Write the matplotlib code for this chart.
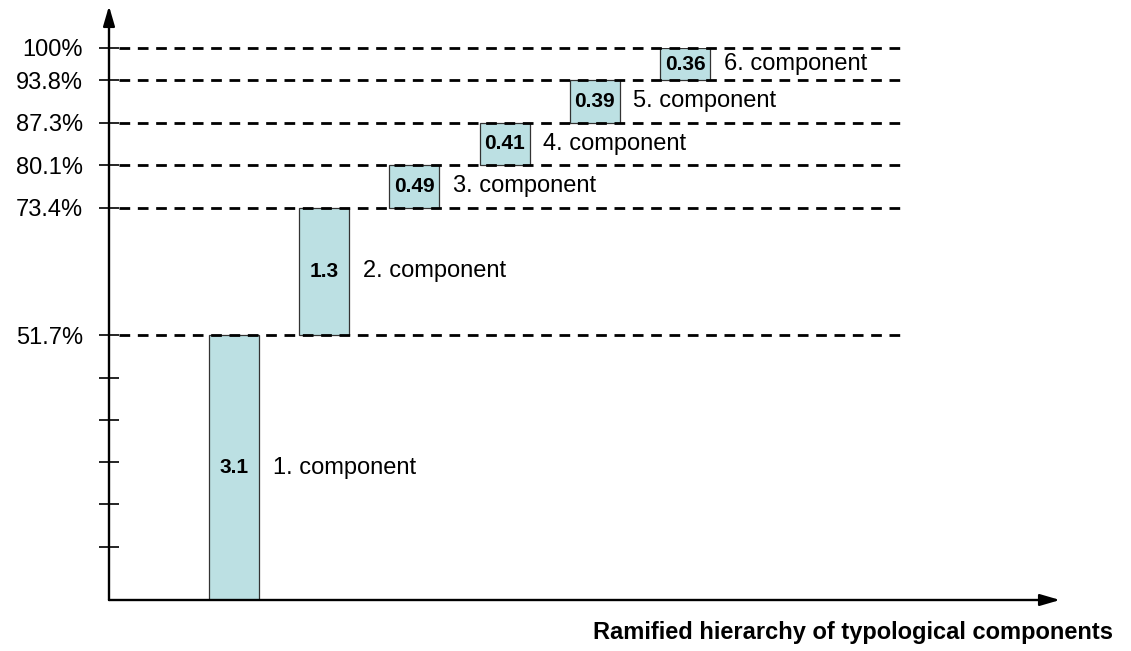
import numpy as np
import matplotlib
matplotlib.use("Agg")
import matplotlib.pyplot as plt

plt.rcParams['font.family'] = ['Liberation Sans', 'DejaVu Sans']
plt.rcParams['lines.scale_dashes'] = False

# components of the hierarchy
components = ["1. component", "2. component", "3. component",
              "4. component", "5. component", "6. component"]
values = [3.1, 1.3, 0.49, 0.41, 0.39, 0.36]
cum_pct = [51.7, 73.4, 80.1, 87.3, 93.8, 100.0]
tick_labels = ["51.7%", "73.4%", "80.1%", "87.3%", "93.8%", "100%"]
# unlabelled ticks under the first level
minor_pct = [10.3, 18.7, 26.9, 35.1, 43.4]

bottoms = [0.0] + cum_pct[:-1]
heights = np.array(cum_pct) - np.array(bottoms)

# the diagram does not space the levels proportionally, so map them
# onto the axis with a piecewise linear scale
levels = [0.0] + cum_pct
level_pos = [0.0, 0.480, 0.711, 0.788, 0.865, 0.942, 1.0]

def fwd(v):
    return np.interp(v, levels, level_pos)

def inv(p):
    return np.interp(p, level_pos, levels)

W, H = 1131, 651
fig = plt.figure(figsize=(W / 100, H / 100), dpi=100)
ax = fig.add_axes([109 / W, 51 / H, (1060 - 109) / W, 552 / H])
ax.set_yscale('function', functions=(fwd, inv))
ax.set_ylim(0, 100)
ax.set_xlim(-0.386, 10.157)

x = np.arange(1, len(values) + 1)
bar_w = 0.554
ax.bar(x, heights, bottom=bottoms, width=bar_w, color="#bce0e3",
       edgecolor="#333333", linewidth=0.9, zorder=2)

ax.hlines(cum_pct, -0.275, 8.38, colors="black", linewidth=2.0,
          linestyles=[(0, (7.7, 5.5))], zorder=3, clip_on=False)

for xi, b, h, v, name in zip(x, bottoms, heights, values, components):
    mid = inv((fwd(b) + fwd(b + h)) / 2)
    ax.text(xi, mid, f"{v:g}", ha="center", va="center",
            fontsize=15, fontweight="bold", zorder=4)
    ax.text(xi + bar_w / 2 + 0.15, mid, name, ha="left", va="center",
            fontsize=17, zorder=4)

for s in ax.spines.values():
    s.set_visible(False)

ax.set_xticks([])
ax.set_yticks(cum_pct)
ax.set_yticklabels(tick_labels)
ax.set_yticks(minor_pct, minor=True)
ax.tick_params(axis="y", which="both", direction="inout", length=14.4,
               width=1.2, pad=11.5, labelsize=17, colors="black")

arrow = dict(arrowstyle="-|>,head_length=1.2,head_width=0.35", lw=1.7,
             color="black", shrinkA=0, shrinkB=0)
ax.annotate("", xy=(1, 0), xytext=(0, 0), xycoords="axes fraction",
            arrowprops=arrow, annotation_clip=False)
ax.annotate("", xy=(0, 594 / 552), xytext=(0, 0), xycoords="axes fraction",
            arrowprops=arrow, annotation_clip=False)

fig.text(1113 / W, 1 - 633 / H, "Ramified hierarchy of typological components",
         ha="right", va="center", fontsize=17, fontweight="bold")

fig.savefig("out.png", dpi=100)
